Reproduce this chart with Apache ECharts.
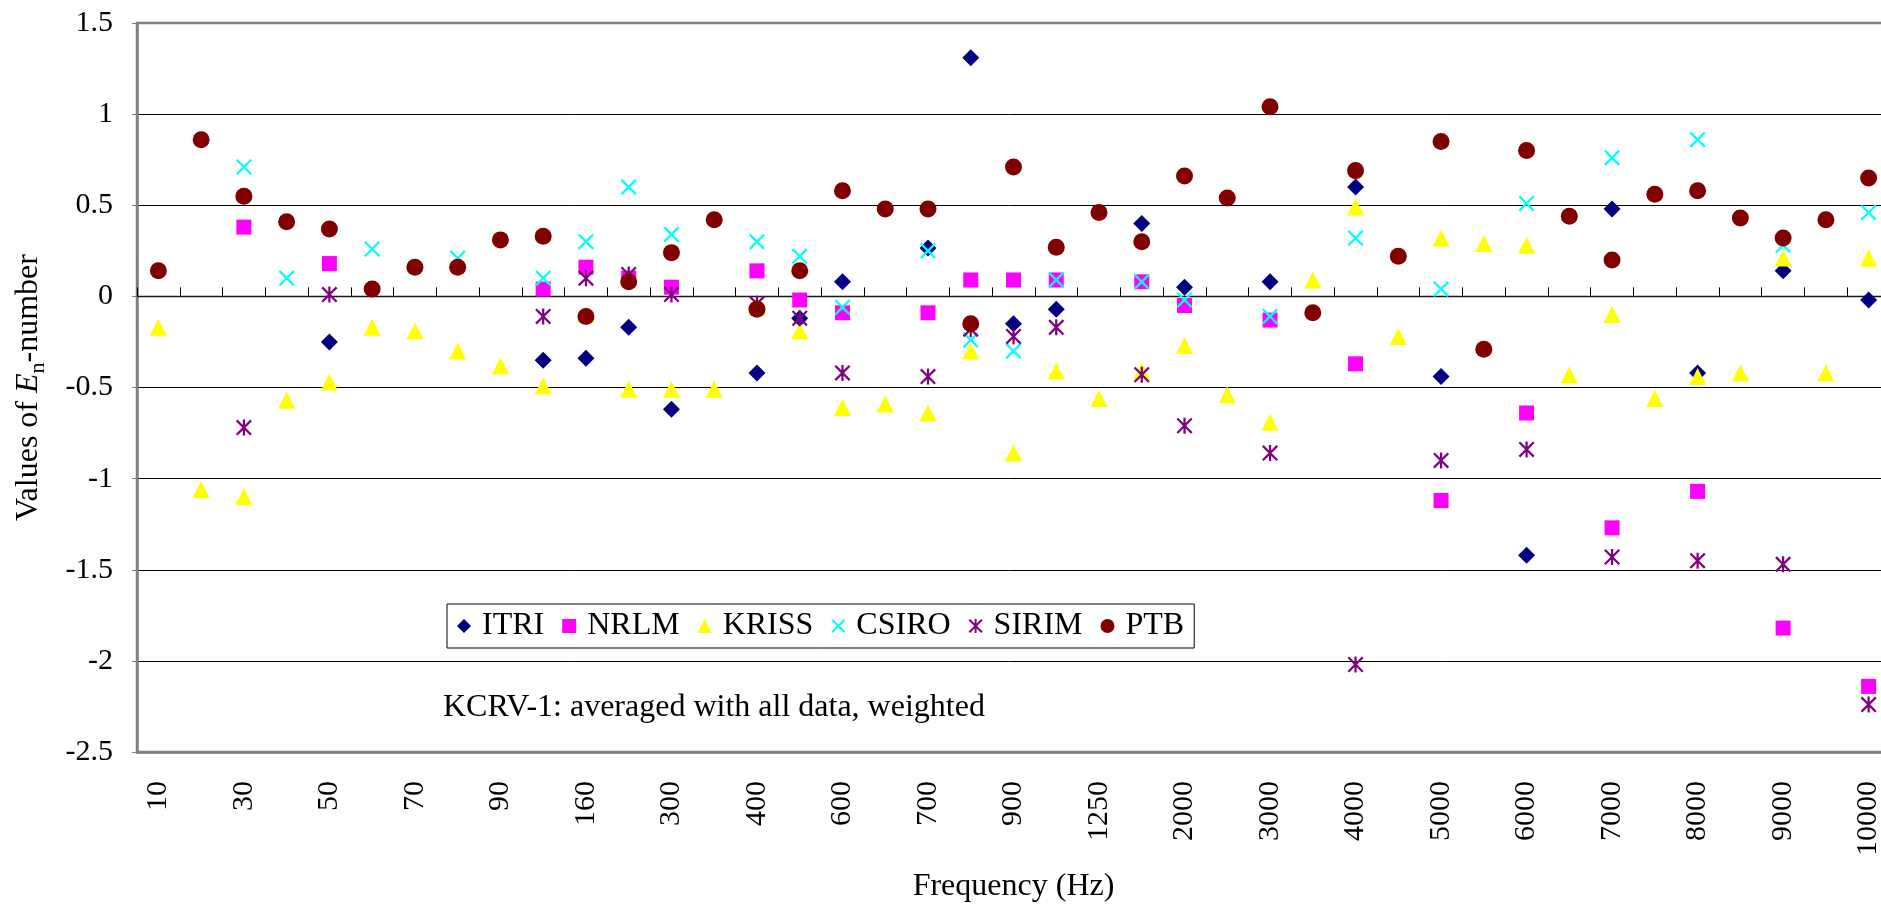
<!DOCTYPE html>
<html>
<head>
<meta charset="utf-8">
<script src="https://cdn.jsdelivr.net/npm/echarts@6/dist/echarts.min.js"></script>
<style>
  html, body { margin: 0; padding: 0; background: #ffffff; }
  #chart { width: 1881px; height: 909px; }
</style>
</head>
<body>
<div id="chart"></div>
<script>
// Frequencies (Hz) on the category axis; every other one is labelled
const frequencies = ['10','20','30','40','50','60','70','80','90','100','160','200','300','350','400','500','600','650','700','800','900','1000','1250','1600','2000','2500','3000','3500','4000','4500','5000','5500','6000','6500','7000','7500','8000','8500','9000','9500','10000'];

// En-number per laboratory, one entry per frequency (null = not measured)
const itri = [null,null,null,null,-0.25,null,null,null,null,-0.35,-0.34,-0.17,-0.62,null,-0.42,-0.12,0.08,null,0.265,1.31,-0.15,-0.07,null,0.40,0.05,null,0.08,null,0.60,null,-0.44,null,-1.42,null,0.48,null,-0.42,null,0.14,null,-0.02];
const nrlm = [null,null,0.38,null,0.18,null,null,null,null,0.04,0.16,0.10,0.05,null,0.14,-0.02,-0.09,null,-0.09,0.09,0.09,0.09,null,0.08,-0.05,null,-0.13,null,-0.37,null,-1.12,null,-0.64,null,-1.27,null,-1.07,null,-1.82,null,-2.14];
const kriss = [-0.17,-1.06,-1.10,-0.57,-0.47,-0.17,-0.19,-0.30,-0.38,-0.49,-0.10,-0.51,-0.51,-0.51,-0.06,-0.19,-0.61,-0.59,-0.64,-0.30,-0.86,-0.41,-0.56,-0.41,-0.27,-0.54,-0.69,0.09,0.49,-0.22,0.32,0.29,0.28,-0.43,-0.10,-0.56,-0.44,-0.42,0.21,-0.42,0.21];
const csiro = [null,null,0.71,0.10,null,0.26,null,0.21,null,0.10,0.30,0.60,0.34,null,0.30,0.22,-0.06,null,0.25,-0.24,-0.30,0.09,null,0.08,-0.02,null,-0.11,null,0.32,null,0.04,null,0.51,null,0.76,null,0.86,null,0.28,null,0.46];
const sirim = [null,null,-0.72,null,0.01,null,null,null,null,-0.11,0.10,0.12,0.01,null,-0.04,-0.12,-0.42,null,-0.44,-0.18,-0.22,-0.17,null,-0.43,-0.71,null,-0.86,null,-2.02,null,-0.90,null,-0.84,null,-1.43,null,-1.45,null,-1.47,null,-2.24];
const ptb = [0.14,0.86,0.55,0.41,0.37,0.04,0.16,0.16,0.31,0.33,-0.11,0.08,0.24,0.42,-0.07,0.14,0.58,0.48,0.48,-0.15,0.71,0.27,0.46,0.30,0.66,0.54,1.04,-0.09,0.69,0.22,0.85,-0.29,0.80,0.44,0.20,0.56,0.58,0.43,0.32,0.42,0.65];

// Value axis range and tick step
const yMin = -2.5;
const yMax = 1.5;
const yStep = 0.5;

const FONT = '"Liberation Serif", "Times New Roman", serif';

// Marker shapes: an X cross and a six-armed asterisk
const crossPath = 'M10,0L50,40L90,0L100,10L60,50L100,90L90,100L50,60L10,100L0,90L40,50L0,10Z';
const markerCross = 'path://' + crossPath;
const markerStar = 'path://' + crossPath + 'M43,0L57,0L57,100L43,100Z';

const labs = [
  { name: 'ITRI',  data: itri,  symbol: 'diamond',   size: 17, color: '#000080' },
  { name: 'NRLM',  data: nrlm,  symbol: 'rect',      size: 15, color: '#FF00FF' },
  { name: 'KRISS', data: kriss, symbol: 'triangle',  size: 17, color: '#FFFF00' },
  { name: 'CSIRO', data: csiro, symbol: markerCross, size: 16, color: '#00FFFF' },
  { name: 'SIRIM', data: sirim, symbol: markerStar,  size: 16, color: '#800080' },
  { name: 'PTB',   data: ptb,   symbol: 'circle',    size: 17, color: '#800000' }
];

function toPoints(values) {
  const out = [];
  values.forEach(function (v, i) { if (v !== null) out.push([i, v]); });
  return out;
}

const chart = echarts.init(document.getElementById('chart'), null, { renderer: 'canvas' });

chart.setOption({
  animation: false,
  backgroundColor: '#ffffff',
  grid: {
    left: 137, top: 23, width: 1753, height: 729,
    show: true, borderColor: '#808080', borderWidth: 2.5,
    backgroundColor: 'transparent',
    outerBoundsMode: 'none'
  },
  legend: {
    left: 447, top: 604,
    orient: 'horizontal',
    itemWidth: 14, itemHeight: 14, itemGap: 18,
    padding: [6, 10],
    borderColor: '#000000', borderWidth: 1,
    backgroundColor: '#ffffff',
    selectedMode: false,
    textStyle: { fontFamily: FONT, fontSize: 32, color: '#000000', padding: [0, 0, 0, 6] },
    data: labs.map(function (l) { return l.name; })
  },
  graphic: [{
    type: 'text',
    left: 443, top: 692,
    style: { text: 'KCRV-1: averaged with all data, weighted', font: '32px ' + FONT, fill: '#000000' }
  }],
  xAxis: [{
    type: 'category',
    data: frequencies,
    position: 'bottom',
    boundaryGap: true,
    axisLine: { show: true, onZero: false, lineStyle: { color: '#808080', width: 2.5 } },
    axisTick: { show: false },
    axisLabel: { interval: 1, rotate: 90, margin: 29, fontFamily: FONT, fontSize: 30, color: '#000000' },
    splitLine: { show: false },
    name: 'Frequency (Hz)',
    nameLocation: 'middle',
    nameGap: 119,
    nameMoveOverlap: false,
    nameTextStyle: { fontFamily: FONT, fontSize: 32, color: '#000000' }
  }, {
    type: 'category',
    data: frequencies,
    position: 'bottom',
    boundaryGap: true,
    axisLine: { show: true, onZero: true, lineStyle: { color: '#1a1a1a', width: 1.3 } },
    axisTick: { show: true, inside: true, interval: 0, length: 9, lineStyle: { color: '#000000', width: 1 } },
    axisLabel: { show: false },
    splitLine: { show: false }
  }],
  yAxis: {
    type: 'value',
    min: yMin, max: yMax, interval: yStep,
    axisLine: { show: true, lineStyle: { color: '#808080', width: 2.5 } },
    axisTick: { show: true, length: 5, lineStyle: { color: '#808080', width: 1 } },
    axisLabel: { margin: 24, fontFamily: FONT, fontSize: 30, color: '#000000' },
    splitLine: { show: true, showMinLine: false, showMaxLine: false, lineStyle: { color: '#000000', width: 1 } },
    name: '{a|Values of }{i|E}{s|n}{a|-number}',
    nameLocation: 'middle',
    nameRotate: 90,
    nameGap: 88,
    nameMoveOverlap: false,
    nameTextStyle: {
      fontFamily: FONT, fontSize: 32, color: '#000000',
      rich: {
        a: { fontFamily: FONT, fontSize: 32, color: '#000000', verticalAlign: 'middle' },
        i: { fontFamily: FONT, fontSize: 32, fontStyle: 'italic', color: '#000000', verticalAlign: 'middle' },
        s: { fontFamily: FONT, fontSize: 22, color: '#000000', verticalAlign: 'middle', padding: [18, 0, 0, 0] }
      }
    }
  },
  series: labs.map(function (l) {
    return {
      name: l.name,
      type: 'scatter',
      xAxisIndex: 0,
      yAxisIndex: 0,
      data: toPoints(l.data),
      symbol: l.symbol,
      symbolSize: l.size,
      itemStyle: { color: l.color, opacity: 1 },
      emphasis: { disabled: true }
    };
  })
});
</script>
</body>
</html>
